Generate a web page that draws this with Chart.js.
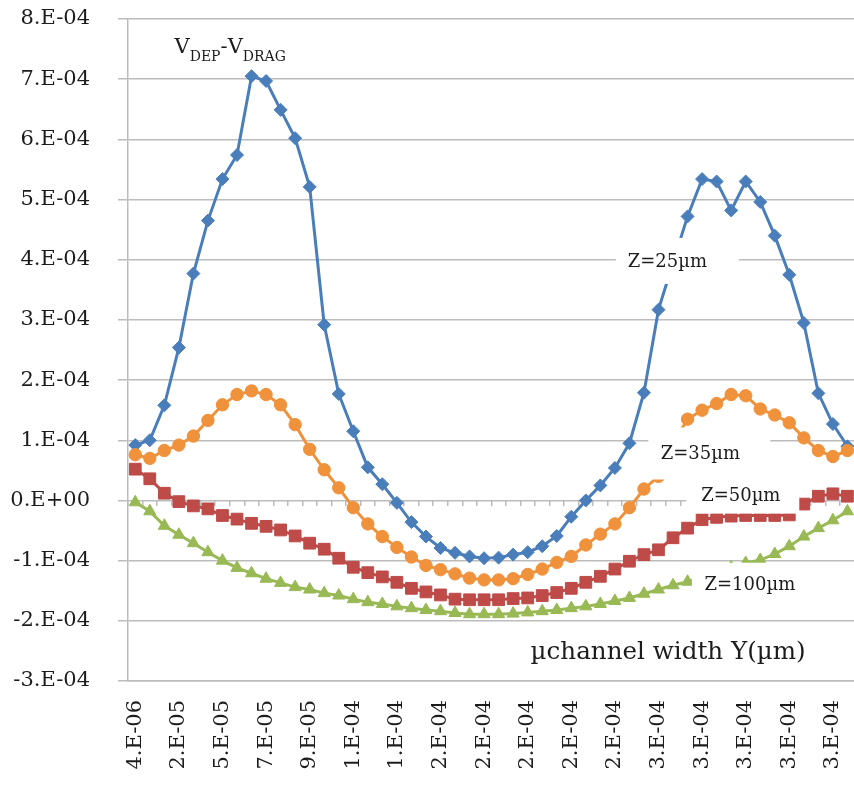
<!DOCTYPE html>
<html>
<head>
<meta charset="utf-8">
<script src="https://cdn.jsdelivr.net/npm/chart.js@4/dist/chart.umd.min.js"></script>
<style>
html, body { margin: 0; padding: 0; background: #fff; overflow: hidden; }
canvas { display: block; }
</style>
</head>
<body>
<canvas id="myChart" width="864" height="785"></canvas>
<script>
// tick labels shown under every third point
var xTickLabels = ['4.E-06', '2.E-05', '5.E-05', '7.E-05', '9.E-05', '1.E-04', '1.E-04',
    '2.E-04', '2.E-04', '2.E-04', '2.E-04', '2.E-04',
    '3.E-04', '3.E-04', '3.E-04', '3.E-04', '3.E-04'];

var z25 = [9.2e-5, 1.0e-4, 1.58e-4, 2.54e-4, 3.77e-4, 4.65e-4, 5.34e-4, 5.74e-4, 7.05e-4, 6.97e-4,
    6.49e-4, 6.02e-4, 5.21e-4, 2.92e-4, 1.77e-4, 1.15e-4, 5.5e-5, 2.7e-5, -4e-6, -3.6e-5,
    -6.0e-5, -7.9e-5, -8.7e-5, -9.3e-5, -9.6e-5, -9.5e-5, -9.0e-5, -8.6e-5, -7.6e-5, -5.9e-5,
    -2.7e-5, 0, 2.5e-5, 5.4e-5, 9.5e-5, 1.79e-4, 3.17e-4, 3.95e-4, 4.72e-4, 5.34e-4,
    5.30e-4, 4.82e-4, 5.30e-4, 4.96e-4, 4.40e-4, 3.75e-4, 2.95e-4, 1.78e-4, 1.27e-4, 9.0e-5];

var z35 = [7.6e-5, 7.0e-5, 8.3e-5, 9.2e-5, 1.07e-4, 1.33e-4, 1.59e-4, 1.76e-4, 1.82e-4, 1.76e-4,
    1.59e-4, 1.26e-4, 8.5e-5, 5.1e-5, 2.1e-5, -1.2e-5, -3.9e-5, -6.0e-5, -7.8e-5, -9.4e-5,
    -1.08e-4, -1.15e-4, -1.22e-4, -1.29e-4, -1.32e-4, -1.32e-4, -1.30e-4, -1.23e-4, -1.14e-4, -1.03e-4,
    -9.3e-5, -7.4e-5, -5.6e-5, -3.9e-5, -1.2e-5, 1.9e-5, 4.0e-5, 9.5e-5, 1.35e-4, 1.50e-4,
    1.61e-4, 1.76e-4, 1.74e-4, 1.52e-4, 1.42e-4, 1.29e-4, 1.04e-4, 8.3e-5, 7.3e-5, 8.3e-5];

var z50 = [5.2e-5, 3.6e-5, 1.2e-5, -2e-6, -9e-6, -1.4e-5, -2.5e-5, -3.1e-5, -3.8e-5, -4.3e-5,
    -4.9e-5, -5.9e-5, -7.1e-5, -8.1e-5, -9.6e-5, -1.11e-4, -1.20e-4, -1.27e-4, -1.36e-4, -1.46e-4,
    -1.52e-4, -1.57e-4, -1.64e-4, -1.65e-4, -1.65e-4, -1.65e-4, -1.63e-4, -1.62e-4, -1.58e-4, -1.53e-4,
    -1.46e-4, -1.36e-4, -1.26e-4, -1.14e-4, -1.01e-4, -9.0e-5, -8.2e-5, -6.2e-5, -4.6e-5, -3.2e-5,
    -2.8e-5, -2.6e-5, -2.5e-5, -2.5e-5, -2.5e-5, -2.4e-5, -6e-6, 7e-6, 1.1e-5, 7e-6];

var z100 = [-3e-6, -1.8e-5, -4.2e-5, -5.7e-5, -7.1e-5, -8.6e-5, -1.00e-4, -1.12e-4, -1.21e-4, -1.30e-4,
    -1.37e-4, -1.44e-4, -1.48e-4, -1.54e-4, -1.58e-4, -1.64e-4, -1.69e-4, -1.72e-4, -1.76e-4, -1.79e-4,
    -1.82e-4, -1.84e-4, -1.87e-4, -1.89e-4, -1.89e-4, -1.89e-4, -1.88e-4, -1.86e-4, -1.84e-4, -1.82e-4,
    -1.79e-4, -1.76e-4, -1.72e-4, -1.67e-4, -1.62e-4, -1.55e-4, -1.48e-4, -1.41e-4, -1.35e-4, -1.27e-4,
    -1.19e-4, -1.11e-4, -1.04e-4, -9.9e-5, -8.9e-5, -7.6e-5, -6.0e-5, -4.6e-5, -3.3e-5, -1.8e-5];

var categories = z25.map(function (v, i) {
    return i % 3 === 0 ? xTickLabels[i / 3] : '';
});

var gridGray = '#bcbcbc';
var textColor = '#1c1c1c';
var serif = 'DejaVu Serif';

// 8e-4 -> "8.E-04", 0 -> "0.E+00"
function sciLabel(v) {
    if (Math.abs(v) < 1e-12) return '0.E+00';
    var parts = v.toExponential(0).split('e');
    var exp = parseInt(parts[1], 10);
    var sign = exp < 0 ? '-' : '+';
    var e = Math.abs(exp);
    return parts[0] + '.E' + sign + (e < 10 ? '0' + e : e);
}

// labels with a white box behind them, placed in data space (index, value)
var boxedNotes = [
    { text: 'Z=25\u00b5m', i: 37.3, v: 3.98e-4, w: 123, h: 46, dx: -10 },
    { text: 'Z=35\u00b5m', i: 39.5, v: 7.8e-5, w: 122, h: 52, dx: -9 },
    { text: 'Z=50\u00b5m', i: 41.8, v: 8e-6, w: 113, h: 36, dx: -2 },
    { text: 'Z=100\u00b5m', i: 42.15, v: -1.40e-4, w: 112, h: 44, dx: 2 }
];

var notesPlugin = {
    id: 'notes',
    afterDatasetsDraw: function (chart) {
        var ctx = chart.ctx;
        var xs = chart.scales.x, ys = chart.scales.y;
        var step = xs.getPixelForValue(1) - xs.getPixelForValue(0);
        ctx.save();
        ctx.textBaseline = 'middle';
        boxedNotes.forEach(function (n) {
            var cx = xs.getPixelForValue(0) + n.i * step;
            var cy = ys.getPixelForValue(n.v);
            ctx.fillStyle = '#fff';
            ctx.fillRect(cx - n.w / 2, cy - n.h / 2, n.w, n.h);
            ctx.fillStyle = textColor;
            ctx.font = '18px "' + serif + '"';
            ctx.textAlign = 'center';
            ctx.fillText(n.text, cx + n.dx, cy + 1);
        });

        // axis caption inside the plot
        ctx.font = '24.6px "' + serif + '"';
        ctx.textAlign = 'left';
        ctx.fillText('\u00b5channel width Y(\u00b5m)', xs.getPixelForValue(0) + 27.2 * step, ys.getPixelForValue(-2.53e-4));

        // V_DEP - V_DRAG with subscripts
        ctx.textBaseline = 'alphabetic';
        var x = xs.getPixelForValue(0) + 2.7 * step;
        var base = ys.getPixelForValue(7.44e-4);
        var pieces = [['V', 21, 0], ['DEP', 14, 8], ['-', 21, 0], ['V', 21, 0], ['DRAG', 14, 8]];
        pieces.forEach(function (p) {
            ctx.font = p[1] + 'px "' + serif + '"';
            ctx.fillText(p[0], x, base + p[2]);
            x += ctx.measureText(p[0]).width;
        });
        ctx.restore();
    }
};

function series(label, data, color, style, radius, order) {
    return {
        label: label,
        data: data,
        borderColor: color,
        backgroundColor: color,
        pointBackgroundColor: color,
        pointBorderColor: color,
        pointStyle: style,
        pointRadius: radius,
        pointBorderWidth: 1,
        borderWidth: 3,
        tension: 0,
        order: order
    };
}

var ctx = document.getElementById('myChart').getContext('2d');
var myChart = new Chart(ctx, {
    type: 'line',
    data: {
        labels: categories,
        datasets: [
            series('Z=25\u00b5m', z25, '#4a7ebb', 'rectRot', 6.5, 3),
            series('Z=35\u00b5m', z35, '#f0913c', 'circle', 6.2, 2),
            series('Z=50\u00b5m', z50, '#be4b48', 'rect', 8.3, 1),
            series('Z=100\u00b5m', z100, '#98b954', 'triangle', 7, 0)
        ]
    },
    options: {
        responsive: false,
        animation: false,
        devicePixelRatio: 1,
        layout: { padding: { left: 0, top: 19, right: 0, bottom: 0 } },
        scales: {
            x: {
                offset: true,
                grid: { drawOnChartArea: false, drawTicks: false },
                border: { display: true, color: gridGray, width: 1.5 },
                ticks: {
                    autoSkip: false,
                    maxRotation: 90,
                    minRotation: 90,
                    padding: 19,
                    color: textColor,
                    font: { family: serif, size: 21 }
                },
                afterFit: function (scale) {
                    scale.height = 104;
                    scale.paddingLeft = 0;
                    scale.paddingRight = 0;
                }
            },
            xZero: {
                axis: 'x',
                type: 'category',
                position: { y: 0 },
                offset: true,
                grid: { offset: true, drawOnChartArea: false, tickLength: 6, color: gridGray, lineWidth: 1.5 },
                border: { display: false },
                ticks: { display: false, autoSkip: false }
            },
            y: {
                min: -3e-4,
                max: 8e-4,
                grid: { color: gridGray, lineWidth: 1.5, tickLength: 10 },
                border: { display: true, color: gridGray, width: 1.5 },
                ticks: {
                    stepSize: 1e-4,
                    padding: 28,
                    color: textColor,
                    font: { family: serif, size: 21 },
                    callback: function (v) { return sciLabel(v); }
                },
                afterFit: function (scale) {
                    scale.width = 128;
                    scale.paddingTop = 0;
                    scale.paddingBottom = 0;
                }
            }
        },
        plugins: {
            legend: { display: false },
            tooltip: { enabled: false }
        }
    },
    plugins: [notesPlugin]
});
</script>
</body>
</html>
